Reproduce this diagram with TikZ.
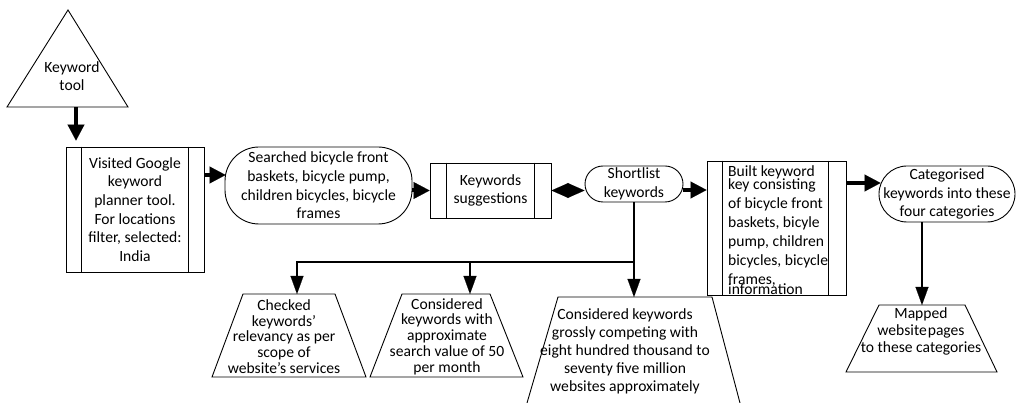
\documentclass[tikz,border=0pt]{standalone}
\usepackage{fontspec}
\setmainfont{Carlito}
\usetikzlibrary{arrows.meta,calc}
\begin{document}
\begin{tikzpicture}[x=1pt,y=-1pt,
  txt/.style={font=\fontsize{15.6}{18.6}\selectfont, align=center, inner sep=0pt},
  ln/.style={draw=black, line width=0.9pt},
  procbox/.style={txt, ln, rectangle},
  stad/.style={txt, ln, rectangle},
  bigarrow/.style={line width=4pt, -{Triangle[width=17pt,length=16pt,line width=0.1pt]}},
  thinarrow/.style={line width=1.4pt, -{Triangle[width=13pt,length=18pt,line width=0.1pt]}},
  dbltip/.style={line width=1pt, {Triangle[width=15pt,length=17pt,line width=0.1pt]}-{Triangle[width=15pt,length=17pt,line width=0.1pt]}}
]
\useasboundingbox (0,0) rectangle (1018,403);

% Keyword tool triangle
\draw[ln] (68,10) -- (128,107) -- (7,107) -- cycle;
\node[txt] (kt) at (72,76) {Keyword\\tool};
\coordinate (tribase) at (76,107);

% Box 1
\node[procbox, minimum width=138pt, minimum height=125pt] (b1) at (135,209.5)
  {Visited Google\\keyword\\planner tool.\\For locations\\filter, selected:\\India};
\draw[ln] ($(b1.north west)+(16,0)$) -- ($(b1.south west)+(16,0)$);
\draw[ln] ($(b1.north east)+(-16,0)$) -- ($(b1.south east)+(-16,0)$);

% Stadium 1
\node[stad, rounded corners=34pt, minimum width=187pt, minimum height=77pt] (s1) at (318.5,185.5)
  {Searched bicycle front\\baskets, bicycle pump,\\children bicycles, bicycle\\frames};

% Box 2
\node[procbox, minimum width=121pt, minimum height=55pt] (b2) at (490.5,190.5) {Keywords\\suggestions};
\draw[ln] ($(b2.north west)+(17,0)$) -- ($(b2.south west)+(17,0)$);
\draw[ln] ($(b2.north east)+(-17,0)$) -- ($(b2.south east)+(-17,0)$);

% Shortlist
\node[stad, rounded corners=18pt, minimum width=98pt, minimum height=36pt] (sl) at (634,184) {Shortlist\\keywords};

% Box 3
\node[procbox, minimum width=139pt, minimum height=134pt] (b3) at (776.5,228) {};
\draw[ln] ($(b3.north west)+(16,0)$) -- ($(b3.south west)+(16,0)$);
\draw[ln] ($(b3.north east)+(-18,0)$) -- ($(b3.south east)+(-18,0)$);
\node[txt, align=left, anchor=north west, font=\fontsize{15.6}{19.1}\selectfont] (b3t) at (728,165.5)
  {Built keyword\\[-6.5pt]key consisting\\of bicycle front\\baskets, bicyle\\pump, children\\bicycles, bicycle\\frames,\\[-9.5pt]information};

% Categorised
\node[stad, rounded corners=28pt, minimum width=136pt, minimum height=56pt] (cat) at (947,194)
  {Categorised\\keywords into these\\four categories};

% Mapped trapezoid
\draw[ln] (879,305) -- (965,305) -- (997,372) -- (846,372) -- cycle;
\node[txt, font=\fontsize{15.6}{17}\selectfont] (mp) at (921,331) {Mapped\\website\hspace{1pt}pages\\to these categories};
\coordinate (mptop) at (922,305);

% Bottom trapezoids
\draw[ln] (243,294) -- (335,294) -- (366,377) -- (212,377) -- cycle;
\node[txt, font=\fontsize{15.6}{15.8}\selectfont] (t1) at (284,336.5)
  {Checked\\keywords’\\relevancy as per\\scope of\\website’s services};
\draw[ln] (402,294) -- (490,294) -- (523,377) -- (370,377) -- cycle;
\node[txt, font=\fontsize{15.6}{15.8}\selectfont] (t2) at (447,336.5)
  {Considered\\keywords with\\approximate\\search value of 50\\per month};
\draw[ln] (527,403) -- (558,297) -- (712,297) -- (740,403);
\node[txt, font=\fontsize{15.6}{18}\selectfont] (t3) at (625,351)
  {Considered keywords\\grossly competing with\\eight hundred thousand to\\seventy five million\\websites approximately};

\coordinate (jn) at (634,262);
\coordinate (t1top) at (297,294);
\coordinate (t2top) at (470,294);
\coordinate (t3top) at (634,297);

% Connectors
\draw[bigarrow, shorten >=6pt] (tribase) -- (tribase |- b1.north);
\draw[bigarrow] ($(b1.east)+(0,-34.5)$) -- ($(s1.west)+(1,-10.5)$);
\draw[bigarrow] (b2.west -| s1.east) -- (b2.west);
\draw[dbltip] (b2.east) -- (b2.east -| sl.west);
\path ($(sl.east)+(0,6)$) coordinate (p1);
\draw[bigarrow] (p1) -- (p1 -| b3.west);
\path ($(b3.east)+(0,-45)$) coordinate (p2);
\draw[bigarrow] (p2) -- ($(p2 -| cat.west)+(2,0)$);
\draw[thinarrow] (mptop |- cat.south) -- (mptop);
\draw[thinarrow] (sl.south) -- (t3top);
\draw[thinarrow] (jn) -| (t1top);
\draw[thinarrow] (jn) -| (t2top);
\end{tikzpicture}
\end{document}
